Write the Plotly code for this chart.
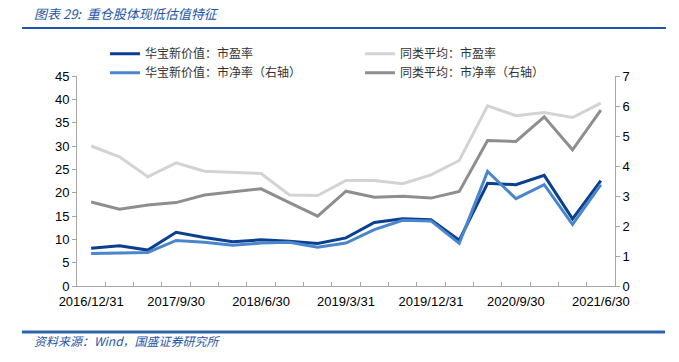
import plotly.graph_objects as go

categories = ["2016/12/31", "2017/3/31", "2017/6/30", "2017/9/30", "2017/12/31",
              "2018/3/31", "2018/6/30", "2018/9/30", "2018/12/31", "2019/3/31",
              "2019/6/30", "2019/9/30", "2019/12/31", "2020/3/31", "2020/6/30",
              "2020/9/30", "2020/12/31", "2021/3/31", "2021/6/30"]

hb_pe = [8.1, 8.6, 7.7, 11.5, 10.4, 9.5, 9.9, 9.6, 9.1, 10.3,
         13.6, 14.4, 14.2, 9.8, 22.0, 21.7, 23.7, 14.4, 22.6]
peer_pe = [30.0, 27.7, 23.4, 26.4, 24.6, 24.4, 24.1, 19.5, 19.4, 22.6,
           22.6, 21.9, 23.8, 26.9, 38.6, 36.5, 37.2, 36.1, 39.2]
hb_pb = [1.08, 1.09, 1.12, 1.52, 1.46, 1.36, 1.43, 1.46, 1.29, 1.43,
         1.88, 2.19, 2.17, 1.42, 3.82, 2.91, 3.38, 2.05, 3.38]
peer_pb = [2.80, 2.56, 2.70, 2.78, 3.03, 3.13, 3.24, 2.78, 2.33, 3.16,
           2.96, 2.99, 2.93, 3.15, 4.85, 4.82, 5.64, 4.54, 5.86]

tick_text = [c if i % 3 == 0 else "" for i, c in enumerate(categories)]

C_DB = "#0B3F8F"
C_LB = "#4A86CB"
C_LG = "#D3D3D3"
C_DG = "#8E8E8E"

fig = go.Figure()
# draw order: grey lines first, blue on top; legend order set via legendrank
fig.add_trace(go.Scatter(x=categories, y=peer_pe, name="同类平均：市盈率", mode="lines",
                         line=dict(color=C_LG, width=3), legendrank=2))
fig.add_trace(go.Scatter(x=categories, y=peer_pb, name="同类平均：市净率（右轴）", mode="lines",
                         line=dict(color=C_DG, width=3), yaxis="y2", legendrank=4))
fig.add_trace(go.Scatter(x=categories, y=hb_pb, name="华宝新价值：市净率（右轴）", mode="lines",
                         line=dict(color=C_LB, width=3), yaxis="y2", legendrank=3))
fig.add_trace(go.Scatter(x=categories, y=hb_pe, name="华宝新价值：市盈率", mode="lines",
                         line=dict(color=C_DB, width=3), legendrank=1))

AX = "#A6A6A6"
tickfont = dict(family="Liberation Sans, Arial, sans-serif", size=13, color="#000000")

fig.update_layout(
    width=679, height=362,
    margin=dict(l=77, r=64, t=76, b=76, autoexpand=False),
    paper_bgcolor="white", plot_bgcolor="white",
    showlegend=True,
    legend=dict(orientation="h", x=0.052, y=1.175, xanchor="left", yanchor="top",
                entrywidth=210, entrywidthmode="pixels", traceorder="normal",
                font=dict(family="Noto Sans CJK SC", size=12, color="#333333"),
                itemwidth=30, bgcolor="rgba(0,0,0,0)"),
    xaxis=dict(type="category", categoryorder="array", categoryarray=categories,
               tickmode="array", tickvals=categories, ticktext=tick_text,
               tickson="boundaries", ticks="inside", ticklen=4, tickcolor=AX,
               showline=True, linecolor=AX, linewidth=1, showgrid=False,
               tickangle=0, tickfont=tickfont, range=[-0.5, 18.5],
               ticklabelstandoff=3),
    yaxis=dict(range=[0, 45], dtick=5, ticks="outside", ticklen=4, tickcolor=AX,
               showline=True, linecolor=AX, linewidth=1, showgrid=False, zeroline=False,
               tickfont=tickfont),
    yaxis2=dict(range=[0, 7], dtick=1, ticks="outside", ticklen=4, tickcolor=AX,
                showline=True, linecolor=AX, linewidth=1, showgrid=False, zeroline=False,
                overlaying="y", side="right", tickfont=tickfont),
    shapes=[
        dict(type="line", xref="paper", yref="paper", x0=-55/538, x1=589/538,
             y0=1 + 48/210, y1=1 + 48/210, line=dict(color="#1F56A8", width=2)),
        dict(type="line", xref="paper", yref="paper", x0=-55/538, x1=588/538,
             y0=-46/210, y1=-46/210, line=dict(color="#2E62AE", width=3)),
    ],
    annotations=[
        dict(text="<i>图表 29:  重仓股体现低估值特征</i>", xref="paper", yref="paper",
             x=-45/538, y=1 + 62/210, xanchor="left", yanchor="middle", showarrow=False,
             font=dict(family="Noto Sans CJK SC", size=13, color="#1F56A8")),
        dict(text="<i>资料来源：Wind，国盛证券研究所</i>", xref="paper", yref="paper",
             x=-45/538, y=-54/210, xanchor="left", yanchor="middle", showarrow=False,
             font=dict(family="Noto Sans CJK SC", size=12, color="#1F56A8")),
    ],
)

fig.write_html("out.html", config={"displayModeBar": False},
               post_script="document.body.style.margin='0';")
